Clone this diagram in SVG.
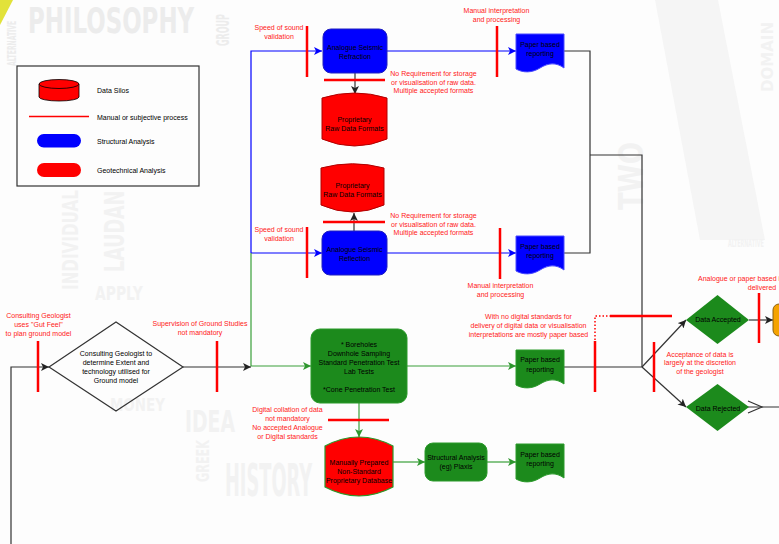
<svg xmlns="http://www.w3.org/2000/svg" width="779" height="544" viewBox="0 0 779 544">
  <style>
    .wm { font-family: "DejaVu Sans", "Liberation Sans", sans-serif; font-weight: bold; fill: #ececec; }
    .wm2 { font-family: "DejaVu Sans", "Liberation Sans", sans-serif; font-weight: bold; fill: #f2f2f2; }
    .t { font-family: "Liberation Sans", Arial, sans-serif; font-size: 7px; fill: #000; text-anchor: middle; }
    .tl { font-family: "Liberation Sans", Arial, sans-serif; font-size: 7px; fill: #000; }
    .note { font-family: "Liberation Sans", Arial, sans-serif; font-size: 7px; fill: #ff2020; text-anchor: middle; }
    .tick { stroke: #ff0000; stroke-width: 2.5; fill: none; }
    .dot { stroke: #ff0000; stroke-width: 1.5; stroke-dasharray: 1.5 2; fill: none; }
    .blue { stroke: #0000ff; stroke-width: 1.2; fill: none; }
    .green { stroke: #3aa03a; stroke-width: 1.2; fill: none; }
    .black { stroke: #333; stroke-width: 1.2; fill: none; }
    .nblue { fill: #0000ff; stroke: #2020c0; stroke-width: 1; }
    .pblue { fill: #0000ff; stroke: #4a4aff; stroke-width: 1; }
    .ngreen { fill: #1c8a1c; stroke: #2a9a2a; stroke-width: 1; }
    .silo { fill: #ff0000; stroke: #b00000; stroke-width: 1; }
  </style>
  <defs>
    <marker id="ab" markerUnits="userSpaceOnUse" markerWidth="9" markerHeight="8" refX="8" refY="4" orient="auto">
      <path d="M0,0 L8,4 L0,8 L2,4 Z" fill="#0000ff"/>
    </marker>
    <marker id="ag" markerUnits="userSpaceOnUse" markerWidth="9" markerHeight="8" refX="8" refY="4" orient="auto">
      <path d="M0,0 L8,4 L0,8 L2,4 Z" fill="#2e962e"/>
    </marker>
    <marker id="ak" markerUnits="userSpaceOnUse" markerWidth="9" markerHeight="8" refX="8" refY="4" orient="auto">
      <path d="M0,0 L8,4 L0,8 L2,4 Z" fill="#222"/>
    </marker>
    <path id="doc" d="M0,0 H48 V34 C40,28 32,29 24,34 C16,39 7,39 0,35 Z"/>
  </defs>

  <rect width="779" height="544" fill="#fdfdfd"/>

  <!-- background word-cloud artwork (condensed with a horizontal scale) -->
  <g id="backdrop">
    <polygon points="0,0 13,0 0,25" fill="#e2e23a"/>
    <polygon points="655,0 718,0 765,240 700,240" fill="#f5f5f5"/>
    <text class="wm" transform="translate(28,33) scale(0.636,1)" font-size="36">PHILOSOPHY</text>
    <text class="wm" transform="translate(229,46) rotate(-90) scale(0.472,1)" font-size="17">GROUP</text>
    <text class="wm" transform="translate(16,66) rotate(-90) scale(0.508,1)" font-size="12">ALTERNATIVE</text>
    <text class="wm2" transform="translate(78,290) rotate(-90) scale(0.69,1)" font-size="22">INDIVIDUAL</text>
    <text class="wm2" transform="translate(124,272) rotate(-90) scale(0.676,1)" font-size="26">LAUDAN</text>
    <text class="wm2" transform="translate(95,300) scale(0.694,1)" font-size="20">APPLY</text>
    <text class="wm2" transform="translate(110,411) scale(0.747,1)" font-size="18">MONEY</text>
    <text class="wm2" transform="translate(185,432) scale(0.627,1)" font-size="30">IDEA</text>
    <text class="wm2" transform="translate(209,482) rotate(-90) scale(0.625,1)" font-size="18">GREEK</text>
    <text class="wm2" transform="translate(225,496) scale(0.404,1)" font-size="44">HISTORY</text>
    <text class="wm2" transform="translate(643,210) rotate(-90) scale(0.759,1)" font-size="34">TWO</text>
    <text class="wm2" transform="translate(728,247) scale(0.439,1)" font-size="11">ALTERNATIVE</text>
    <text class="wm2" transform="translate(773,92) rotate(-90) scale(0.94,1)" font-size="16">DOMAIN</text>
  </g>

  <!-- legend -->
  <g id="legend">
    <rect x="17" y="66" width="182" height="120" fill="none" stroke="#333" stroke-width="1.2"/>
    <path d="M39,84 V97 A20,4 0 0 0 79,97 V84" fill="#ff0000" stroke="#000" stroke-width="0.8"/>
    <ellipse cx="59" cy="84" rx="20" ry="4.5" fill="#ff0000" stroke="#000" stroke-width="0.8"/>
    <line x1="29" y1="116.5" x2="89" y2="116.5" stroke="#ff0000" stroke-width="1.5"/>
    <rect x="37" y="134" width="44" height="13.5" rx="6.75" fill="#0000ff"/>
    <rect x="37" y="163" width="44" height="14" rx="7" fill="#ff0000"/>
    <text class="tl" x="97" y="92.5">Data Silos</text>
    <text class="tl" x="97" y="119.5">Manual or subjective process</text>
    <text class="tl" x="97" y="143.5">Structural Analysis</text>
    <text class="tl" x="97" y="172.5">Geotechnical Analysis</text>
  </g>

  <!-- connectors -->
  <g id="connectors">
    <path class="blue" d="M251,253 V51 H322" marker-end="url(#ab)"/>
    <path class="blue" d="M251,253 H322" marker-end="url(#ab)"/>
    <path class="blue" d="M387,51 H516" marker-end="url(#ab)"/>
    <path class="blue" d="M387,253 H516" marker-end="url(#ab)"/>
    <path class="black" d="M355,73 V94" marker-end="url(#ak)"/>
    <path class="black" d="M354,231 V213" marker-end="url(#ak)"/>

    <path class="green" d="M251,253 V366 H311" marker-end="url(#ag)"/>
    <path class="green" d="M407,366 H516" marker-end="url(#ag)"/>
    <path class="green" d="M359,403 V437" marker-end="url(#ag)"/>
    <path class="green" d="M393,462 H425" marker-end="url(#ag)"/>
    <path class="green" d="M487,462 H516" marker-end="url(#ag)"/>

    <path class="black" d="M11,544 V367 H49" marker-end="url(#ak)"/>
    <path class="black" d="M183,367 H251" marker-end="url(#ak)"/>
    <path class="black" d="M564,51 H590 V253 H564"/>
    <path class="black" d="M590,155 H642 V367"/>
    <path class="black" d="M564,367 H642"/>
    <path class="black" d="M642,367 L686,320" marker-end="url(#ak)"/>
    <path class="black" d="M642,367 L686,407" marker-end="url(#ak)"/>
    <path class="black" d="M749,320 H773" marker-end="url(#ak)"/>
    <path class="black" d="M746,407 H779"/>
    <path class="black" d="M748,401 L762,407 L748,413"/>
  </g>

  <!-- manual / subjective process bars -->
  <g id="manual-bars">
    <line class="tick" x1="307" y1="26" x2="307" y2="77"/>
    <line class="tick" x1="497" y1="26" x2="497" y2="77"/>
    <line class="tick" x1="324" y1="80" x2="385" y2="80"/>
    <line class="tick" x1="323" y1="222" x2="385" y2="222"/>
    <line class="tick" x1="307" y1="227" x2="307" y2="278"/>
    <line class="tick" x1="500" y1="228" x2="500" y2="279"/>
    <line class="tick" x1="38" y1="341" x2="38" y2="392"/>
    <line class="tick" x1="217" y1="341" x2="217" y2="392"/>
    <line class="tick" x1="595" y1="341" x2="595" y2="392"/>
    <path class="dot" d="M595,340 V316 H610"/>
    <line class="tick" x1="610" y1="316" x2="672" y2="316"/>
    <line class="tick" x1="654" y1="342" x2="654" y2="392"/>
    <line class="tick" x1="759" y1="293" x2="759" y2="343"/>
    <line class="tick" x1="328" y1="420" x2="389" y2="420"/>
  </g>

  <!-- annotations -->
  <g id="notes">
    <text class="note" x="279" y="30">Speed of sound</text>
    <text class="note" x="279" y="39">validation</text>
    <text class="note" x="496.5" y="12.5">Manual interpretation</text>
    <text class="note" x="496.5" y="21.5">and processing</text>
    <text class="note" x="433.5" y="76">No Requirement for storage</text>
    <text class="note" x="433.5" y="84.5">or visualisation of raw data.</text>
    <text class="note" x="433.5" y="93">Multiple accepted formats</text>
    <text class="note" x="433.5" y="218">No Requirement for storage</text>
    <text class="note" x="433.5" y="226.5">or visualisation of raw data.</text>
    <text class="note" x="433.5" y="235">Multiple accepted formats</text>
    <text class="note" x="279" y="232">Speed of sound</text>
    <text class="note" x="279" y="241">validation</text>
    <text class="note" x="500.5" y="288">Manual interpretation</text>
    <text class="note" x="500.5" y="297">and processing</text>
    <text class="note" x="528.5" y="318.5">With no digital standards for</text>
    <text class="note" x="528.5" y="327.5">delivery of digital data or visualisation</text>
    <text class="note" x="528.5" y="336.5">interpretations are mostly paper based</text>
    <text class="note" x="38.5" y="318">Consulting Geologist</text>
    <text class="note" x="38.5" y="327">uses "Gut Feel"</text>
    <text class="note" x="38.5" y="336">to plan ground model</text>
    <text class="note" x="200" y="326">Supervision of Ground Studies</text>
    <text class="note" x="200" y="335">not mandatory</text>
    <text class="note" x="287.5" y="412">Digital collation of data</text>
    <text class="note" x="287.5" y="421">not mandatory</text>
    <text class="note" x="287.5" y="430">No accepted Analogue</text>
    <text class="note" x="287.5" y="439">or Digital standards</text>
    <text class="note" x="700" y="356.5">Acceptance of data is</text>
    <text class="note" x="700" y="365">largely at the discretion</text>
    <text class="note" x="700" y="374">of the geologist</text>
    <text class="note" x="698" y="281" style="text-anchor:start">Analogue or paper based i</text>
    <text class="note" x="762" y="290">delivered</text>
  </g>

  <!-- nodes -->
  <g id="seismic-refraction">
    <rect class="nblue" x="323" y="29" width="64" height="44" rx="8"/>
    <text class="t" x="355" y="50">Analogue Seismic</text>
    <text class="t" x="355" y="58.5">Refraction</text>
  </g>
  <g id="raw-formats-1">
    <path class="silo" d="M322,98 Q354.5,88 387,98 V139 Q354.5,153 322,139 Z"/>
    <text class="t" x="354.5" y="121.5">Proprietary</text>
    <text class="t" x="354.5" y="130.5">Raw Data Formats</text>
  </g>
  <g id="raw-formats-2">
    <path class="silo" d="M321,168 Q352.5,159.5 384,168 V205 Q352.5,219 321,205 Z"/>
    <text class="t" x="352.5" y="188">Proprietary</text>
    <text class="t" x="352.5" y="197">Raw Data Formats</text>
  </g>
  <g id="seismic-reflection">
    <rect class="nblue" x="322" y="231" width="65" height="44" rx="8"/>
    <text class="t" x="354.5" y="251.5">Analogue Seismic</text>
    <text class="t" x="354.5" y="260.5">Reflection</text>
  </g>
  <g id="report-refraction">
    <use href="#doc" class="pblue" x="516" y="34"/>
    <text class="t" x="540" y="47">Paper based</text>
    <text class="t" x="540" y="56">reporting</text>
  </g>
  <g id="report-reflection">
    <use href="#doc" class="pblue" x="516" y="236"/>
    <text class="t" x="540" y="248.5">Paper based</text>
    <text class="t" x="540" y="257.5">reporting</text>
  </g>
  <g id="geologist-decision">
    <polygon points="49,367 116,322 183,367 116,411" fill="none" stroke="#333" stroke-width="1.2"/>
    <text class="t" x="116" y="355.5">Consulting Geologist to</text>
    <text class="t" x="116" y="364.5">determine Extent and</text>
    <text class="t" x="116" y="373.5">technology utilised for</text>
    <text class="t" x="116" y="382.5">Ground model</text>
  </g>
  <g id="ground-investigation">
    <rect class="ngreen" x="311" y="329" width="96" height="74" rx="9"/>
    <text class="t" x="359" y="347">* Boreholes</text>
    <text class="t" x="359" y="356">Downhole Sampling</text>
    <text class="t" x="359" y="365">Standard Penetration Test</text>
    <text class="t" x="359" y="374">Lab Tests</text>
    <text class="t" x="359" y="392">*Cone Penetration Test</text>
  </g>
  <g id="report-ground">
    <use href="#doc" class="ngreen" x="516" y="350"/>
    <text class="t" x="540" y="362">Paper based</text>
    <text class="t" x="540" y="372">reporting</text>
  </g>
  <g id="proprietary-database">
    <path d="M325,446 Q359,428 393,446 V487 Q359,505 325,487 Z" fill="#ff0000" stroke="#2a9a2a" stroke-width="1.2"/>
    <text class="t" x="359" y="465">Manually Prepared</text>
    <text class="t" x="359" y="474">Non-Standard</text>
    <text class="t" x="359" y="482.5">Proprietary Database</text>
  </g>
  <g id="structural-analysis">
    <rect class="ngreen" x="425" y="443" width="62" height="38" rx="8"/>
    <text class="t" x="456" y="460">Structural Analysis</text>
    <text class="t" x="456" y="469">(eg) Plaxis</text>
  </g>
  <g id="report-structural">
    <use href="#doc" class="ngreen" x="516" y="444"/>
    <text class="t" x="540" y="457">Paper based</text>
    <text class="t" x="540" y="466">reporting</text>
  </g>
  <g id="data-accepted">
    <polygon points="686,320 717.5,295 749,320 717.5,344" fill="#1c8a1c"/>
    <text class="t" x="718" y="322">Data Accepted</text>
  </g>
  <g id="data-rejected">
    <polygon points="686,407 717.5,384 749,407 717.5,431" fill="#1c8a1c"/>
    <text class="t" x="718" y="410.5">Data Rejected</text>
  </g>
  <g id="delivery">
    <rect x="773" y="304" width="20" height="32" rx="6" fill="#f5a300" stroke="#8a6010" stroke-width="1"/>
  </g>
</svg>
